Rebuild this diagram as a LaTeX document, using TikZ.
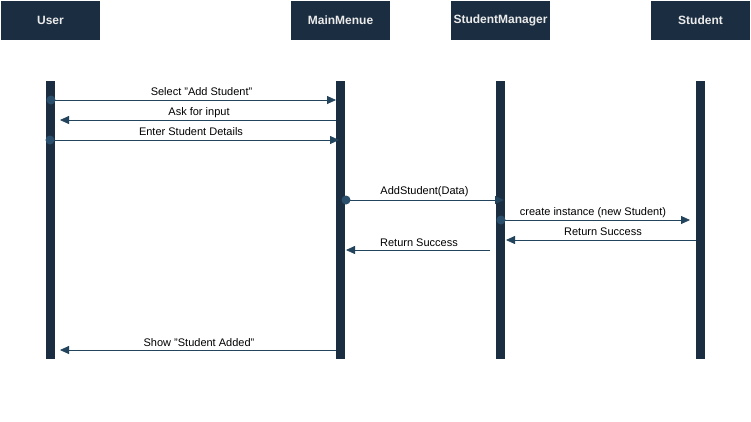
\documentclass[tikz,border=0pt]{standalone}
\usepackage{fontspec}
\setmainfont{Liberation Sans}
\usetikzlibrary{arrows.meta}
\definecolor{navy}{HTML}{1B2D40}
\definecolor{msg}{HTML}{23445D}
\definecolor{dotc}{HTML}{2A4F6C}
\begin{document}
\begin{tikzpicture}[x=1pt,y=-1pt,
  head/.style={fill=navy, minimum width=99pt, minimum height=39pt, inner sep=0pt, text=white!92!black, font=\fontsize{12}{14}\selectfont\bfseries},
  life/.style={fill=navy, minimum width=9pt, minimum height=278pt, inner sep=0pt},
  msgline/.style={draw=msg, line width=0.8pt, -{Triangle[length=9pt,width=8pt]}},
  lbl/.style={font=\fontsize{11}{13}\selectfont, text=black, inner sep=0pt},
  dot/.style={circle, fill=dotc, inner sep=0pt, minimum size=9pt}]
\useasboundingbox (0,0) rectangle (751,421);
\fill[white] (0,0) rectangle (751,421);
% headers
\node[head] (user) at (50.5,20.5) {User};
\node[head] (menu) at (340.5,20.5) {MainMenue};
\node[head] (mgr) at (500.5,20.5) {StudentManager};
\node[head] (stu) at (700.5,20.5) {Student};
% lifelines
\node[life] (uL) at (50.5,220) {};
\node[life] (mL) at (340.5,220) {};
\node[life] (sL) at (500.5,220) {};
\node[life] (tL) at (700.5,220) {};
% message end points
\coordinate (m1s) at (51,100);  \coordinate (m1e) at (336,100);
\coordinate (m2s) at (336,120); \coordinate (m2e) at (60,120);
\coordinate (m3s) at (50,140);  \coordinate (m3e) at (339,140);
\coordinate (m4s) at (346,200); \coordinate (m4e) at (504,200);
\coordinate (m5s) at (501,220); \coordinate (m5e) at (690,220);
\coordinate (m6s) at (696,240); \coordinate (m6e) at (506,240);
\coordinate (m7s) at (490,250); \coordinate (m7e) at (346,250);
\coordinate (m8s) at (336,350); \coordinate (m8e) at (60,350);
% messages
\draw[msgline] (m1s) -- (m1e);
\node[dot] (d1) at (m1s) {};
\node[lbl] (l1) at (201.5,92) {Select "Add Student"};
\draw[msgline] (m2s) -- (m2e);
\node[lbl] (l2) at (199,112.5) {Ask for input};
\draw[msgline] (m3s) -- (m3e);
\node[dot] (d3) at (m3s) {};
\node[lbl] (l3) at (191,132) {Enter Student Details};
\draw[msgline] (m4s) -- (m4e);
\node[dot] (d4) at (m4s) {};
\node[lbl] (l4) at (424.5,192) {AddStudent(Data)};
\draw[msgline] (m5s) -- (m5e);
\node[dot] (d5) at (m5s) {};
\node[lbl] (l5) at (593,212.5) {create instance (new Student)};
\draw[msgline] (m6s) -- (m6e);
\node[lbl] (l6) at (603,232) {Return Success};
\draw[msgline] (m7s) -- (m7e);
\node[lbl] (l7) at (419,242.5) {Return Success};
\draw[msgline] (m8s) -- (m8e);
\node[lbl] (l8) at (199,342.5) {Show "Student Added"};
\end{tikzpicture}
\end{document}
